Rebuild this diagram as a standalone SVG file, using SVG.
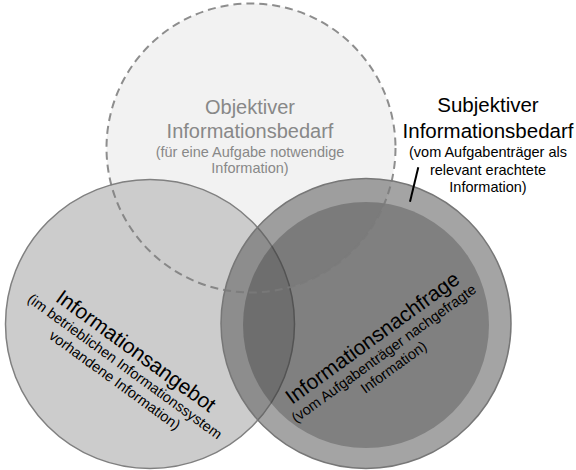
<svg xmlns="http://www.w3.org/2000/svg" width="576" height="470" viewBox="0 0 576 470">
  <style>
    text { font-family: "Liberation Sans", Arial, sans-serif; text-anchor: middle; }
    .title { font-size: 20px; }
    .title21 { font-size: 21px; }
    .titleS { font-size: 20.5px; }
    .sub { font-size: 14.5px; }
    .muted { fill: #888888; }
    .dark { fill: #000000; }
  </style>
  <rect width="576" height="470" fill="#ffffff"/>

  <!-- objective information need: dashed circle (fill only, outline drawn last) -->
  <g id="objektiv">
    <circle cx="251" cy="148" r="144.5" fill="#f2f2f2"/>
  </g>

  <!-- information supply -->
  <g id="angebot">
    <circle cx="150" cy="324" r="144.5" fill="#cccccc" stroke="#808080" stroke-width="1.5"/>
  </g>

  <!-- subjective information need with demand inside -->
  <g id="subjektiv">
    <circle cx="366" cy="323.5" r="145" fill="#595959" fill-opacity="0.55" stroke="#777777" stroke-width="1.5"/>
  </g>
  <g id="nachfrage">
    <circle cx="366" cy="325" r="123" fill="#000000" fill-opacity="0.22"/>
  </g>

  <!-- dashed outline on top -->
  <g id="objektiv-outline">
    <circle cx="251" cy="148" r="144.5" fill="none" stroke="#7a7a7a" stroke-opacity="0.85" stroke-width="2" stroke-dasharray="8 5"/>
  </g>

  <!-- connectors -->
  <g id="connectors">
    <line x1="418.3" y1="167.3" x2="410" y2="201.7" stroke="#000000" stroke-width="2"/>
  </g>

  <!-- labels -->
  <g id="label-objektiv" class="muted">
    <text class="title" x="250" y="114">Objektiver</text>
    <text class="title" x="250" y="138">Informationsbedarf</text>
    <text class="sub" x="250" y="157">(für eine Aufgabe notwendige</text>
    <text class="sub" x="250" y="173">Information)</text>
  </g>

  <g id="label-subjektiv" class="dark">
    <text class="titleS" x="488" y="112">Subjektiver</text>
    <text class="titleS" x="488" y="138">Informationsbedarf</text>
    <text class="sub" x="488" y="157">(vom Aufgabenträger als</text>
    <text class="sub" x="488" y="175">relevant erachtete</text>
    <text class="sub" x="488" y="192">Information)</text>
  </g>

  <g id="label-angebot" class="dark" transform="translate(136,351) rotate(36)">
    <text class="title21" x="0" y="7">Informationsangebot</text>
    <text class="sub" x="0" y="24">(im betrieblichen Informationssystem</text>
    <text class="sub" x="0" y="41">vorhandene Information)</text>
  </g>

  <g id="label-nachfrage" class="dark" transform="translate(372.5,338) rotate(-36)">
    <text class="title21" x="0" y="7">Informationsnachfrage</text>
    <text class="sub" x="0" y="24">(vom Aufgabenträger nachgefragte</text>
    <text class="sub" x="0" y="41">Information)</text>
  </g>
</svg>
